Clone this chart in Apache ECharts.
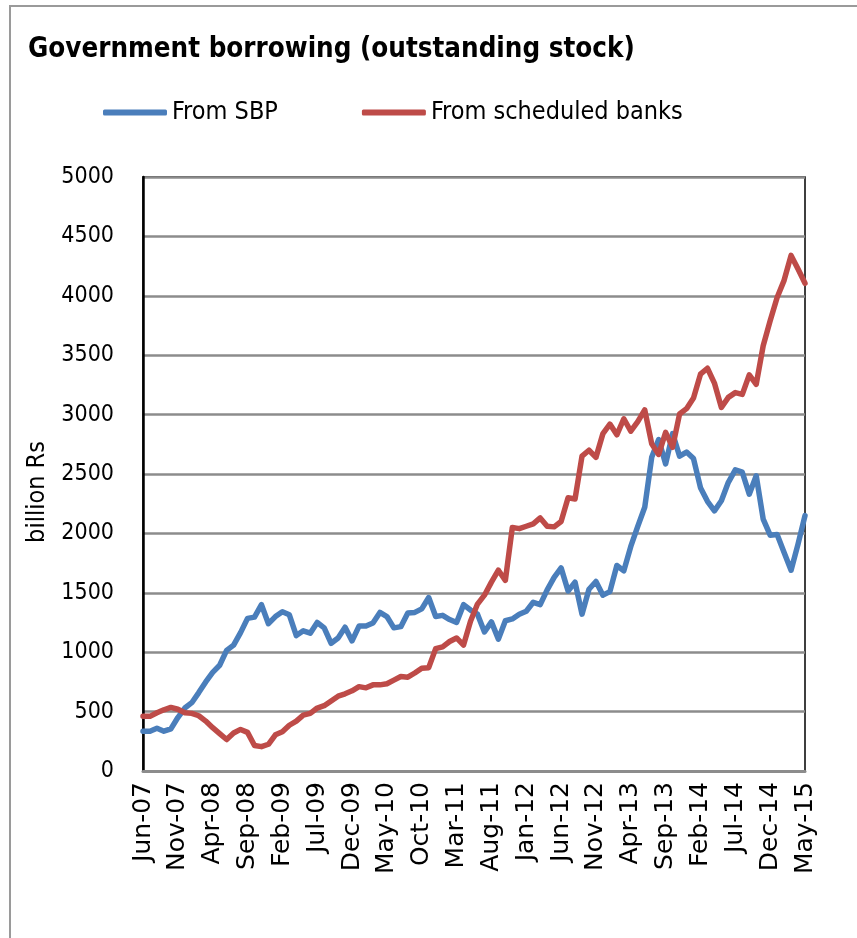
<!DOCTYPE html>
<html>
<head>
<meta charset="utf-8">
<style>
  html, body { margin: 0; padding: 0; background: #fff; }
  #chart { width: 857px; height: 938px; }
</style>
<script src="https://cdn.jsdelivr.net/npm/echarts@6/dist/echarts.min.js"></script>
</head>
<body>
<div id="chart"></div>
<script>
// Monthly categories, Jun-07 .. May-15
const monthNames = ['Jan','Feb','Mar','Apr','May','Jun','Jul','Aug','Sep','Oct','Nov','Dec'];
const months = [];
for (let y = 2007, m = 5; !(y === 2015 && m === 5); ) {
  months.push(monthNames[m] + '-' + String(y).slice(2));
  m++; if (m === 12) { m = 0; y++; }
}

// Government borrowing from the State Bank of Pakistan (billion Rs)
const fromSBP = [
  335, 335, 360, 335, 355, 450, 530, 575, 660, 750,
  830, 890, 1015, 1060, 1165, 1285, 1295, 1400, 1240, 1300,
  1340, 1315, 1140, 1180, 1160, 1250, 1205, 1075, 1120, 1210,
  1095, 1220, 1220, 1245, 1335, 1300, 1205, 1215, 1330, 1335,
  1365, 1460, 1300, 1310, 1275, 1250, 1400, 1355, 1320, 1170,
  1255, 1110, 1265, 1280, 1320, 1345, 1420, 1400, 1525, 1630,
  1710, 1515, 1590, 1320, 1530, 1595, 1480, 1510, 1730, 1685,
  1890, 2060, 2220, 2640, 2790, 2585, 2840, 2650, 2685, 2630,
  2385, 2270, 2190, 2275, 2430, 2535, 2515, 2330, 2485, 2120,
  1985, 1990, 1840, 1690, 1910, 2150
];

// Government borrowing from scheduled banks (billion Rs)
const fromBanks = [
  460, 460, 490, 515, 535, 520, 490, 485, 465, 420,
  365, 315, 265, 320, 350, 325, 215, 205, 225, 305,
  330, 385, 420, 470, 485, 530, 550, 590, 630, 650,
  675, 710, 700, 725, 725, 735, 765, 795, 790, 825,
  865, 870, 1030, 1045, 1090, 1120, 1060, 1260, 1405, 1480,
  1590, 1690, 1605, 2050, 2040, 2060, 2080, 2130, 2060, 2055,
  2100, 2300, 2290, 2650, 2700, 2640, 2840, 2920, 2830, 2965,
  2860, 2940, 3040, 2755, 2665, 2850, 2725, 3005, 3050, 3140,
  3340, 3390, 3265, 3060, 3145, 3185, 3170, 3335, 3255, 3580,
  3790, 3985, 4130, 4340, 4225, 4105
];

const yTicks = { min: 0, max: 5000, step: 500 };

const narrow = "'Liberation Sans Narrow', 'DejaVu Sans Condensed', sans-serif";
const blue = '#4a7ebb';
const red = '#be4b48';

const chart = echarts.init(document.getElementById('chart'), null, { renderer: 'canvas' });
chart.setOption({
  animation: false,
  backgroundColor: '#fff',
  title: {
    text: 'Government borrowing (outstanding stock)',
    left: 23, top: 31,
    textStyle: { fontFamily: narrow, fontWeight: 'bold', fontSize: 27.5, color: '#000' }
  },
  legend: {
    left: 98, top: 95,
    itemWidth: 64, itemHeight: 6, itemGap: 84,
    icon: 'roundRect',
    textStyle: { fontFamily: narrow, fontSize: 25, color: '#000' },
    data: ['From SBP', 'From scheduled banks']
  },
  graphic: [{
    type: 'rect', silent: true, z: -10,
    shape: { x: 10, y: 6, width: 880, height: 960 },
    style: { fill: 'none', stroke: '#9a9a9a', lineWidth: 2 }
  }],
  grid: {
    left: 143, right: 52, top: 177, bottom: 167,
    show: true, borderColor: '#000', borderWidth: 1.5
  },
  xAxis: {
    type: 'category',
    data: months,
    boundaryGap: false,
    axisLine: { show: true, lineStyle: { color: '#8c8c8c', width: 3 } },
    axisTick: { show: false },
    axisLabel: {
      interval: 4, rotate: 90, margin: 11,
      fontFamily: "'DejaVu Sans', sans-serif", fontSize: 25, color: '#000'
    },
    splitLine: { show: false }
  },
  yAxis: {
    type: 'value',
    min: yTicks.min, max: yTicks.max, interval: yTicks.step,
    name: 'billion Rs',
    nameLocation: 'middle', nameRotate: 90, nameGap: 76,
    nameTextStyle: { fontFamily: narrow, fontSize: 25, color: '#000', padding: [0, 36, 0, 0] },
    axisLine: { show: true, lineStyle: { color: '#000', width: 2.5 } },
    axisTick: { show: false },
    axisLabel: {
      margin: 29, fontFamily: narrow, fontSize: 23, color: '#000',
      formatter: (v) => String(v)
    },
    splitLine: { show: true, lineStyle: { color: '#8c8c8c', width: 2.5 } }
  },
  series: [
    {
      name: 'From SBP', type: 'line', data: fromSBP,
      showSymbol: false, symbol: 'none', color: blue,
      lineStyle: { width: 5.5, color: blue, join: 'round', cap: 'round' }
    },
    {
      name: 'From scheduled banks', type: 'line', data: fromBanks,
      showSymbol: false, symbol: 'none', color: red,
      lineStyle: { width: 5.5, color: red, join: 'round', cap: 'round' }
    }
  ]
});
</script>
</body>
</html>
